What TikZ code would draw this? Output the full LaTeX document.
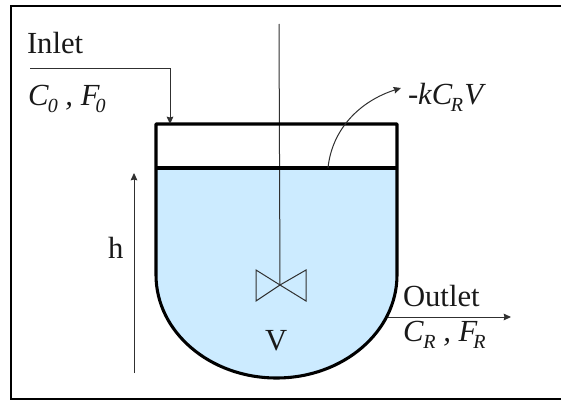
\documentclass[tikz,border=0pt]{standalone}
\usepackage{fontspec}
\setmainfont{Liberation Serif}
\usetikzlibrary{arrows.meta}
\newcommand{\sbs}[1]{\raisebox{-0.26em}{\fontsize{15}{15}\selectfont\itshape #1}}
\definecolor{liquid}{HTML}{CCEBFF}
\definecolor{thinline}{HTML}{303030}
\tikzset{
  x=0.75pt,y=0.75pt,
  framebox/.style={line width=1.6pt,black},
  wall/.style={line width=2.3pt,black,line join=round},
  thin line/.style={line width=0.75pt,thinline},
  flow/.style={thin line,-{Stealth[length=5.5pt,width=5pt,inset=0.6pt]}},
  label/.style={anchor=base west,inner sep=0pt,outer sep=0pt,font=\fontsize{23}{23}\selectfont,text=black!90},
  ilabel/.style={label,font=\fontsize{23}{23}\selectfont\itshape}
}
\begin{document}
\begin{tikzpicture}
\useasboundingbox (0,0) rectangle (561,401);
% frame (open at the right image edge)
\draw[framebox] (565,395) -- (11,395) -- (11,2) -- (565,2);
% named points
\coordinate (tankTL) at (156,277);
\coordinate (tankTR) at (397,277);
\coordinate (levelL) at (156,233);
\coordinate (levelR) at (397,233);
\coordinate (bendL) at (156,126);
\coordinate (bendR) at (397,126);
\coordinate (inletStart) at (30,333);
\coordinate (inletBend) at (170,333);
\coordinate (inletEnd) at (170,277);
\coordinate (hBottom) at (134,28);
\coordinate (hTop) at (134,228);
\coordinate (outletStart) at (388,84);
\coordinate (outletEnd) at (511,84);
\coordinate (shaftTop) at (279,377);
\coordinate (hub) at (280,116);
\coordinate (bladeLT) at (256,131);
\coordinate (bladeLB) at (256,100);
\coordinate (bladeRT) at (306,131);
\coordinate (bladeRB) at (306,100);
\coordinate (rxnStart) at (328,233);
\coordinate (rxnEnd) at (401,313);
% liquid
\fill[liquid] (levelL) -- (levelR) -- (bendR) arc[start angle=0,end angle=-180,x radius=120.5,y radius=103] -- cycle;
% shaft and impeller
\draw[thin line] (shaftTop) -- (hub);
\draw[thin line,line join=miter] (hub) -- (bladeLT) -- (bladeLB) -- cycle;
\draw[thin line,line join=miter] (hub) -- (bladeRT) -- (bladeRB) -- cycle;
% vessel
\draw[wall] (levelL) -- (levelR);
\draw[wall] (tankTL) -- (tankTR) -- (bendR) arc[start angle=0,end angle=-180,x radius=120.5,y radius=103] -- cycle;
% connectors
\draw[flow] (inletStart) -- (inletBend) -- (inletEnd);
\draw[flow] (hBottom) -- (hTop);
\draw[flow] (outletStart) -- (outletEnd);
\draw[flow] (rxnStart) .. controls (332,272) and (360,300) .. (rxnEnd);
% labels
\node[label] (inlet) at (27,348) {Inlet};
\node[ilabel] (feed) at (28,296) {C\kern-0.5pt\sbs{0} , F\kern-3pt\sbs{0}};
\node[ilabel] (rate) at (408,297) {-kC\kern-1pt\sbs{R}\kern1pt V};
\node[label] (outlet) at (403,95) {Outlet};
\node[ilabel] (prod) at (403,60) {C\sbs{R} , F\kern-3pt\sbs{R}};
\node[label] (height) at (108,143) {h};
\node[label] (vol) at (265,51) {V};
\end{tikzpicture}
\end{document}
